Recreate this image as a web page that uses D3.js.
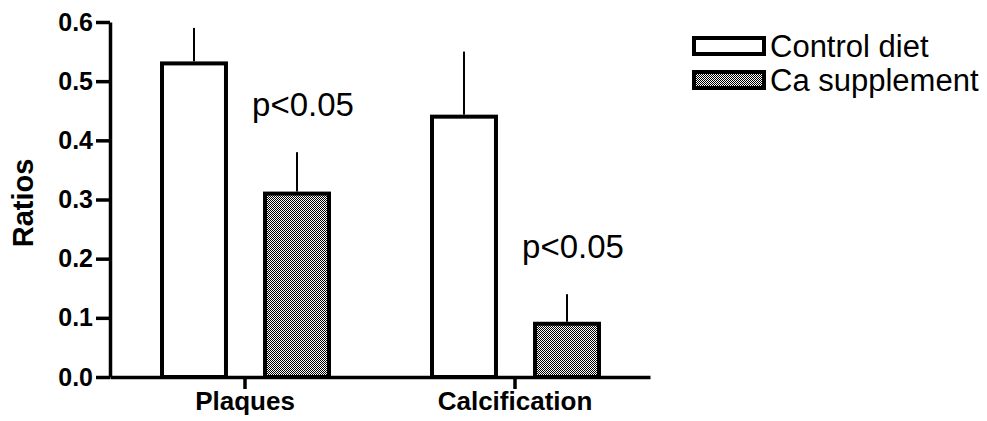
<!DOCTYPE html>
<html>
<head>
<meta charset="utf-8">
<script src="https://cdn.jsdelivr.net/npm/d3@7"></script>
<style>
  body { margin: 0; background: #fff; }
  svg text { font-family: "Liberation Sans", Arial, sans-serif; fill: #000; }
</style>
</head>
<body>
<div id="viz"></div>
<script>
var categories = ["Plaques", "Calcification"];
var series = ["Control diet", "Ca supplement"];
var means = [[0.53, 0.31], [0.44, 0.09]];
var upper = [[0.59, 0.38], [0.55, 0.14]];
var yTicks = [0.0, 0.1, 0.2, 0.3, 0.4, 0.5, 0.6];
var notes = [{cat: 0, ser: 1, text: "p<0.05"}, {cat: 1, ser: 1, text: "p<0.05"}];

var w = 987, h = 421;

var svg = d3.select("#viz").append("svg")
  .attr("width", w)
  .attr("height", h);

// checker pattern for the Ca bars
var pat = svg.append("defs").append("pattern")
  .attr("id", "checker")
  .attr("width", 2).attr("height", 2)
  .attr("patternUnits", "userSpaceOnUse");
pat.append("rect").attr("width", 2).attr("height", 2).attr("fill", "#fff");
pat.append("rect").attr("width", 1).attr("height", 1).attr("fill", "#000");
pat.append("rect").attr("x", 1).attr("y", 1).attr("width", 1).attr("height", 1).attr("fill", "#000");

var fills = ["#fff", "url(#checker)"];

var y = d3.scaleLinear().domain([0, 0.6]).range([377, 22]);
var x0 = d3.scaleBand().domain(categories).range([110, 650]);
var x1 = d3.scaleBand().domain(series).range([52, 219]).paddingInner(0.379).paddingOuter(0);

var rows = [];
categories.forEach(function(c, i) {
  series.forEach(function(s, j) {
    rows.push({cat: c, ser: s, j: j, v: means[i][j], e: upper[i][j]});
  });
});

// bars
svg.selectAll("rect.bar")
  .data(rows)
  .enter().append("rect")
  .attr("class", "bar")
  .attr("x", function(d) { return x0(d.cat) + x1(d.ser); })
  .attr("y", function(d) { return y(d.v); })
  .attr("width", x1.bandwidth())
  .attr("height", function(d) { return y(0) - y(d.v); })
  .attr("fill", function(d) { return fills[d.j]; })
  .attr("stroke", "#000")
  .attr("stroke-width", 4);

// error bars (upper only, no caps)
svg.selectAll("line.err")
  .data(rows)
  .enter().append("line")
  .attr("class", "err")
  .attr("x1", function(d) { return x0(d.cat) + x1(d.ser) + x1.bandwidth() / 2; })
  .attr("x2", function(d) { return x0(d.cat) + x1(d.ser) + x1.bandwidth() / 2; })
  .attr("y1", function(d) { return y(d.v) - 2; })
  .attr("y2", function(d) { return y(d.e); })
  .attr("stroke", "#000")
  .attr("stroke-width", 2);

// y axis
var yAxis = svg.append("g")
  .attr("transform", "translate(110,0)")
  .call(d3.axisLeft(y).tickValues(yTicks).tickFormat(d3.format(".1f")).tickSize(14).tickSizeOuter(0));
yAxis.select(".domain").attr("stroke-width", 3.5);
yAxis.selectAll(".tick line").attr("stroke-width", 3.5);
yAxis.selectAll(".tick text")
  .attr("x", -17)
  .style("font-size", "25px")
  .style("font-weight", "bold");

// x axis
var xAxis = svg.append("g")
  .attr("transform", "translate(0,377)")
  .call(d3.axisBottom(x0).tickSize(12).tickSizeOuter(0));
xAxis.select(".domain").attr("stroke-width", 3.5);
xAxis.selectAll(".tick line").attr("stroke-width", 3.5);
xAxis.selectAll(".tick text")
  .attr("y", 15)
  .style("font-size", "26px")
  .style("font-weight", "bold");

// y label
svg.append("text")
  .attr("transform", "translate(33,203) rotate(-90)")
  .attr("text-anchor", "middle")
  .style("font-size", "29px")
  .style("font-weight", "bold")
  .text("Ratios");

// p-value notes
svg.selectAll("text.note")
  .data(notes)
  .enter().append("text")
  .attr("class", "note")
  .attr("x", function(d) { return x0(categories[d.cat]) + x1(series[d.ser]) + x1.bandwidth() / 2 + 6; })
  .attr("y", function(d) { return y(upper[d.cat][d.ser]) - 36; })
  .attr("text-anchor", "middle")
  .style("font-size", "33px")
  .text(function(d) { return d.text; });

// legend
var legend = svg.selectAll("g.leg")
  .data(series)
  .enter().append("g")
  .attr("class", "leg")
  .attr("transform", function(d, i) { return "translate(694," + (38 + i * 34) + ")"; });
legend.append("rect")
  .attr("width", 70).attr("height", 16)
  .attr("fill", function(d, i) { return fills[i]; })
  .attr("stroke", "#000")
  .attr("stroke-width", 4);
legend.append("text")
  .attr("x", 76)
  .attr("y", 8)
  .attr("dy", "0.36em")
  .style("font-size", "31px")
  .text(function(d) { return d; });
</script>
</body>
</html>
